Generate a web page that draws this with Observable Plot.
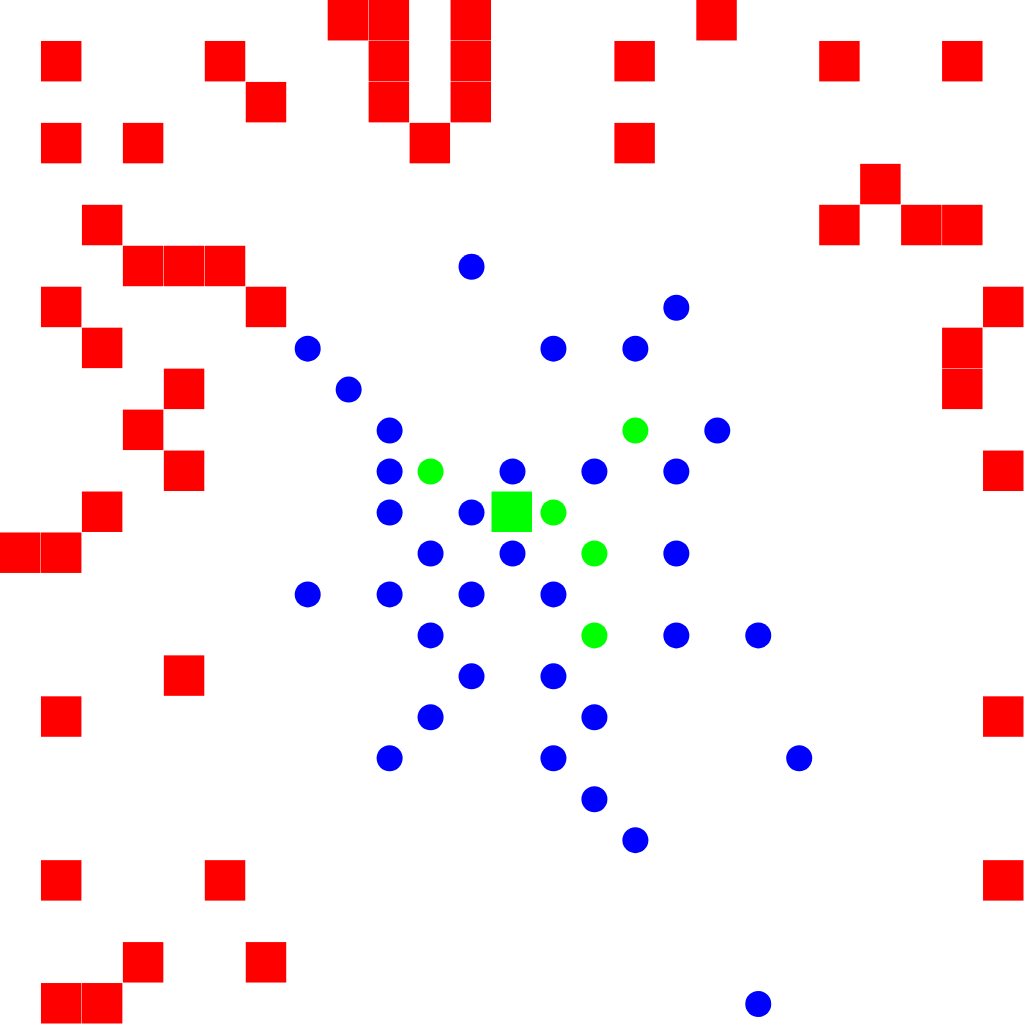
<!DOCTYPE html>
<html>
<head>
<meta charset="utf-8">
<style>html,body{margin:0;padding:0;background:#fff;overflow:hidden}</style>
<script src="https://cdn.jsdelivr.net/npm/d3@7"></script>
<script src="https://cdn.jsdelivr.net/npm/@observablehq/plot@0.6"></script>
</head>
<body>
<div id="chart"></div>
<script>
// grid cells [column, row]
const walls = [
  [8,0],[9,0],[11,0],[17,0],
  [1,1],[5,1],[9,1],[11,1],[15,1],[20,1],[23,1],
  [6,2],[9,2],[11,2],
  [1,3],[3,3],[10,3],[15,3],
  [21,4],
  [2,5],[20,5],[22,5],[23,5],
  [3,6],[4,6],[5,6],
  [1,7],[6,7],[24,7],
  [2,8],[23,8],
  [4,9],[23,9],
  [3,10],
  [4,11],[24,11],
  [2,12],
  [0,13],[1,13],
  [4,16],
  [1,17],[24,17],
  [1,21],[5,21],[24,21],
  [3,23],[6,23],
  [1,24],[2,24]
];
const blueDots = [
  [11,6],[16,7],[7,8],[13,8],[15,8],[8,9],[9,10],[17,10],
  [9,11],[12,11],[14,11],[16,11],
  [9,12],[11,12],
  [10,13],[12,13],[16,13],
  [7,14],[9,14],[11,14],[13,14],
  [10,15],[16,15],[18,15],
  [11,16],[13,16],
  [10,17],[14,17],
  [9,18],[13,18],[19,18],
  [14,19],[15,20],[18,24]
];
const greenDots = [[15,10],[10,11],[13,12],[14,13],[14,15]];
const agent = [[12,12]];

const chart = Plot.plot({
  width: 1024,
  height: 1024,
  margin: 0,
  x: {domain: [0, 25], axis: null},
  y: {domain: [0, 25], reverse: true, axis: null},
  marks: [
    Plot.rect(walls, {x1: d => d[0], x2: d => d[0] + 1, y1: d => d[1], y2: d => d[1] + 1, fill: "#ff0000", insetRight: 0.5, insetBottom: 0.5}),
    Plot.rect(agent, {x1: d => d[0], x2: d => d[0] + 1, y1: d => d[1], y2: d => d[1] + 1, fill: "#00ff00", insetRight: 0.5, insetBottom: 0.5}),
    Plot.dot(blueDots, {x: d => d[0] + 0.5, y: d => d[1] + 0.5, r: 13, fill: "#0000ff", stroke: "none"}),
    Plot.dot(greenDots, {x: d => d[0] + 0.5, y: d => d[1] + 0.5, r: 13, fill: "#00ff00", stroke: "none"})
  ]
});
document.getElementById("chart").append(chart);
</script>
</body>
</html>
